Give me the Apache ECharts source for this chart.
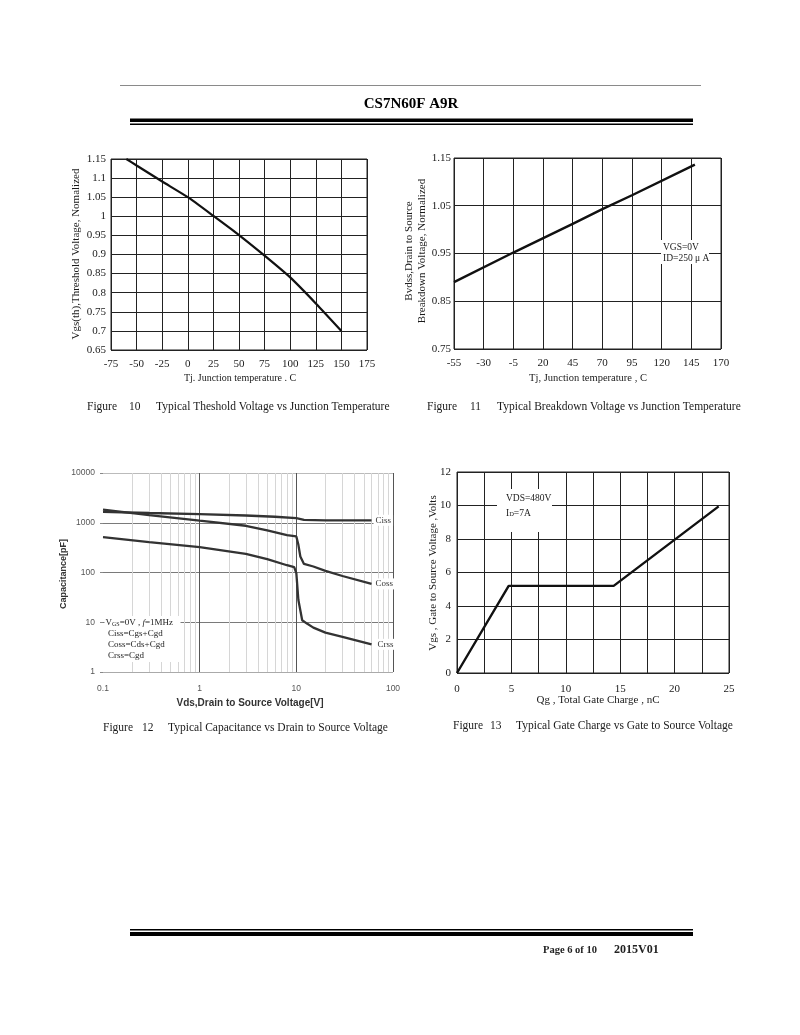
<!DOCTYPE html>
<html><head><meta charset="utf-8">
<script src="https://cdn.jsdelivr.net/npm/echarts@6/dist/echarts.min.js"></script>
<style>html,body{margin:0;padding:0;background:#fff}#c{width:800px;height:1035px}</style>
</head><body><div id="c"></div>
<script>
// ---------- data ----------
// Figure 10: threshold voltage vs junction temperature
const fig10Temp = [-60, -50, -25, 0, 25, 50, 75, 100, 125, 150];
const fig10Vth  = [1.15, 1.133, 1.091, 1.05, 1.001, 0.951, 0.897, 0.84, 0.772, 0.70];
const fig10XAxis = [-75, 175, 25];       // min, max, step
const fig10YAxis = [0.65, 1.15, 0.05];
// Figure 11: breakdown voltage vs junction temperature
const fig11Temp = [-55, -5, 45, 70, 95, 148];
const fig11BV   = [0.89, 0.952, 1.012, 1.043, 1.072, 1.136];
const fig11XAxis = [-55, 170, 25];
const fig11YAxis = [0.75, 1.15, 0.1];
// Figure 12: capacitance vs drain-source voltage (log-log)
const cissVds = [0.1, 0.3, 1, 3, 6, 10, 12, 20, 60];
const cissPF  = [1660, 1570, 1490, 1400, 1320, 1240, 1140, 1120, 1120];
const cossVds = [0.1, 0.3, 1, 3, 5, 8, 10, 10.5, 11, 12, 15, 20, 30, 60];
const cossPF  = [1830, 1425, 1100, 870, 700, 565, 530, 360, 210, 149, 132, 108, 85, 59];
const crssVds = [0.1, 0.3, 1, 3, 5, 8, 9.5, 10, 10.5, 11.5, 13, 15, 20, 30, 60];
const crssPF  = [514, 407, 324, 238, 185, 140, 128, 97, 28, 11, 9.3, 7.8, 6.2, 5.1, 3.6];
const capMinorV = [0.2,0.3,0.4,0.5,0.6,0.7,0.8,0.9,2,3,4,5,6,7,8,9,20,30,40,50,60,70,80,90];
// Figure 13: gate charge
const qgCharge = [0, 4.75, 14.4, 24.05];
const qgVgs    = [0, 5.2, 5.2, 9.95];
const fig13XAxis = [0, 25, 2.5];
const fig13YAxis = [0, 12, 2];

// ---------- styles ----------
const SERIF = '"Liberation Serif","Times New Roman",serif';
const SANS = '"Liberation Sans",Arial,sans-serif';
const INK = '#1a1a1a';
const GRIDC = '#222';

function serifAxis(gi, rng, extra) {
  return Object.assign({
    gridIndex: gi, type: 'value', min: rng[0], max: rng[1], interval: rng[2],
    axisLine: {show: false}, axisTick: {show: false},
    splitLine: {show: true, lineStyle: {color: GRIDC, width: 1}},
    axisLabel: {fontFamily: SERIF, fontSize: 11, color: INK, margin: 8, showMinLabel: true, showMaxLabel: true}
  }, extra || {});
}

function T(x, y, text, o) {
  o = o || {};
  const fs = o.size || 11;
  const st = {
    text: text, x: 0, y: 0, fill: o.color || INK,
    fontFamily: o.family || SERIF, fontSize: fs, fontWeight: o.weight || 'normal',
    align: o.align || 'left', textAlign: o.align || 'left',
    verticalAlign: 'middle', textVerticalAlign: 'middle'
  };
  if (o.rich) st.rich = o.rich;
  return {type: 'text', x: x, y: y, rotation: o.rot || 0, z: 100, silent: true, style: st};
}
function R(x, y, w, h, fill, z) {
  return {type: 'rect', z: z || 90, silent: true, shape: {x: x, y: y, width: w, height: h}, style: {fill: fill}};
}

const G = [
  {left: 111, top: 159, width: 256, height: 191},
  {left: 454, top: 158, width: 267, height: 191},
  {left: 103, top: 473, width: 290, height: 199},
  {left: 457, top: 472, width: 272, height: 201}
].map((g, i) => Object.assign(g, {
  containLabel: false, outerBoundsMode: 'none',
  show: i !== 2, borderColor: GRIDC, borderWidth: 1, backgroundColor: 'transparent'
}));

const xOff11 = -fig11XAxis[0], yOff11 = -fig11YAxis[0];
const CAP = 11.5;

const option = {
  animation: false,
  backgroundColor: '#fff',
  grid: G,
  xAxis: [
    serifAxis(0, fig10XAxis, {axisLabel: {fontFamily: SERIF, fontSize: 11, color: INK, margin: 9, showMinLabel: true, showMaxLabel: true}}),
    serifAxis(1, [0, fig11XAxis[1] + xOff11, fig11XAxis[2]], {axisLabel: {fontFamily: SERIF, fontSize: 11, color: INK, margin: 9, showMinLabel: true, showMaxLabel: true,
      formatter: v => String(Math.round(v - xOff11))}}),
    {gridIndex: 2, type: 'log', logBase: 10, min: 0.1, max: 100,
      axisLine: {show: false}, axisTick: {show: false},
      splitLine: {show: true, showMinLine: false, lineStyle: {color: '#555', width: 1}},
      axisLabel: {fontFamily: SANS, fontSize: 8.5, color: '#555', margin: 12, showMinLabel: true, showMaxLabel: true,
        formatter: v => v >= 1 ? String(Math.round(v)) : String(+v.toPrecision(2))}},
    serifAxis(3, fig13XAxis, {axisLabel: {fontFamily: SERIF, fontSize: 11, color: INK, margin: 11, showMinLabel: true, showMaxLabel: true,
      formatter: v => (Math.abs(v % 5) < 1e-6 ? String(Math.round(v)) : '')}})
  ],
  yAxis: [
    serifAxis(0, fig10YAxis, {axisLabel: {fontFamily: SERIF, fontSize: 11, color: INK, margin: 5, showMinLabel: true, showMaxLabel: true,
      formatter: v => String(+v.toFixed(2))}}),
    serifAxis(1, [0, fig11YAxis[1] + yOff11, fig11YAxis[2]], {axisLabel: {fontFamily: SERIF, fontSize: 11, color: INK, margin: 3, showMinLabel: true, showMaxLabel: true,
      formatter: v => (v - yOff11).toFixed(2)}}),
    {gridIndex: 2, type: 'log', logBase: 10, min: 1, max: 10000,
      axisLine: {show: false}, axisTick: {show: true, length: 3, lineStyle: {color: '#888'}},
      splitLine: {show: true, lineStyle: {color: ['#aaa', '#7a7a7a', '#7a7a7a', '#7a7a7a', '#bbb'], width: 1}},
      axisLabel: {fontFamily: SANS, fontSize: 8.5, color: '#555', margin: 8, showMinLabel: true, showMaxLabel: true,
        formatter: v => String(Math.round(v))}},
    serifAxis(3, fig13YAxis, {axisLabel: {fontFamily: SERIF, fontSize: 11, color: INK, margin: 6, showMinLabel: true, showMaxLabel: true}})
  ],
  series: [
    {type: 'line', xAxisIndex: 0, yAxisIndex: 0, symbol: 'none', smooth: 0.2, z: 5,
      lineStyle: {color: '#111', width: 2.2},
      data: fig10Temp.map((t, i) => [t, fig10Vth[i]])},
    {type: 'line', xAxisIndex: 1, yAxisIndex: 1, symbol: 'none', z: 5,
      lineStyle: {color: '#111', width: 2.4},
      data: fig11Temp.map((t, i) => [t + xOff11, fig11BV[i] + yOff11])},
    {type: 'line', xAxisIndex: 2, yAxisIndex: 2, symbol: 'none', z: 1, data: [],
      markLine: {silent: true, symbol: ['none', 'none'], label: {show: false}, animation: false,
        lineStyle: {color: '#d6d6d6', width: 1, type: 'solid'},
        data: capMinorV.map(v => ({xAxis: v}))}},
    {name: 'Ciss', type: 'line', xAxisIndex: 2, yAxisIndex: 2, symbol: 'none', z: 5,
      lineStyle: {color: '#333', width: 2.3},
      endLabel: {show: true, formatter: 'Ciss', distance: 2, fontFamily: SERIF, fontSize: 9, color: '#333', backgroundColor: '#fff', padding: [1, 2]},
      data: cissVds.map((v, i) => [v, cissPF[i]])},
    {name: 'Coss', type: 'line', xAxisIndex: 2, yAxisIndex: 2, symbol: 'none', z: 5,
      lineStyle: {color: '#333', width: 2.3},
      endLabel: {show: true, formatter: 'Coss', distance: 2, fontFamily: SERIF, fontSize: 9, color: '#333', backgroundColor: '#fff', padding: [1, 2]},
      data: cossVds.map((v, i) => [v, cossPF[i]])},
    {name: 'Crss', type: 'line', xAxisIndex: 2, yAxisIndex: 2, symbol: 'none', z: 5,
      lineStyle: {color: '#333', width: 2.3},
      endLabel: {show: true, formatter: 'Crss', distance: 4, fontFamily: SERIF, fontSize: 9, color: '#333', backgroundColor: '#fff', padding: [1, 2]},
      data: crssVds.map((v, i) => [v, crssPF[i]])},
    {type: 'line', xAxisIndex: 3, yAxisIndex: 3, symbol: 'none', z: 5,
      lineStyle: {color: '#111', width: 2.4},
      data: qgCharge.map((q, i) => [q, qgVgs[i]])}
  ],
  graphic: {elements: [
    // header
    R(120, 85, 581, 1, '#8a8a8a'),
    T(411, 104, 'CS7N60F A9R', {size: 15, weight: 'bold', align: 'center', color: '#000'}),
    R(130, 118.5, 563, 3.5, '#000'),
    R(130, 123.5, 563, 1.5, '#000'),
    // footer
    R(130, 929, 563, 1.5, '#000'),
    R(130, 932, 563, 4, '#000'),
    T(543, 950, 'Page 6 of 10', {size: 10.5, weight: 'bold', color: '#222'}),
    T(614, 950, '2015V01', {size: 12, weight: 'bold', color: '#222'}),

    // fig 10 names
    T(76, 254, 'Vgs(th),Threshold Voltage, Nomalized', {size: 11, align: 'center', rot: Math.PI / 2}),
    T(240, 378, 'Tj. Junction temperature . C', {size: 10, align: 'center'}),
    // fig 11 names
    T(409, 251, 'Bvdss,Drain to Source', {size: 11, align: 'center', rot: Math.PI / 2}),
    T(422, 251, 'Breakdown Voltage, Normalized', {size: 11, align: 'center', rot: Math.PI / 2}),
    T(588, 378, 'Tj, Junction temperature , C', {size: 10.5, align: 'center'}),
    R(661, 240, 48, 24, '#fff'),
    T(663, 247, 'VGS=0V', {size: 9.5}),
    T(663, 258, 'ID=250 μ A', {size: 9.5}),
    // fig 12
    T(64, 574, 'Capacitance[pF]', {size: 9, weight: 'bold', family: SANS, align: 'center', rot: Math.PI / 2, color: '#333'}),
    T(250, 703, 'Vds,Drain to Source Voltage[V]', {size: 10, weight: 'bold', family: SANS, align: 'center', color: '#333'}),
    R(104.5, 616, 76, 46, '#fff'),
    T(105.5, 623, '{n|V}{s|GS}{n|=0V , }{i|f}{n|=1MHz}', {size: 9, rich: {
      n: {fontFamily: SERIF, fontSize: 9, fill: '#222'},
      s: {fontFamily: SERIF, fontSize: 6, fill: '#222', verticalAlign: 'bottom'},
      i: {fontFamily: SERIF, fontSize: 9, fill: '#222', fontStyle: 'italic'}}}),
    T(108, 634, 'Ciss=Cgs+Cgd', {size: 9, color: '#222'}),
    T(108, 645, 'Coss=Cds+Cgd', {size: 9, color: '#222'}),
    T(108, 656, 'Crss=Cgd', {size: 9, color: '#222'}),
    // fig 13
    T(433, 573, 'Vgs , Gate to Source Voltage ,Volts', {size: 11, align: 'center', rot: Math.PI / 2}),
    T(598, 700, 'Qg , Total Gate Charge , nC', {size: 11, align: 'center'}),
    R(497, 489, 55, 43, '#fff'),
    T(506, 498, 'VDS=480V', {size: 9.5}),
    T(506, 513, '{n|I}{s|D}{n|=7A}', {size: 9.5, rich: {
      n: {fontFamily: SERIF, fontSize: 9.5, fill: INK},
      s: {fontFamily: SERIF, fontSize: 6.5, fill: INK, verticalAlign: 'bottom'}}}),

    // captions
    T(87, 407, 'Figure', {size: CAP}), T(129, 407, '10', {size: CAP}),
    T(156, 407, 'Typical Theshold Voltage vs Junction Temperature', {size: CAP}),
    T(427, 407, 'Figure', {size: CAP}), T(470, 407, '11', {size: CAP}),
    T(497, 407, 'Typical Breakdown Voltage vs Junction Temperature', {size: CAP}),
    T(103, 728, 'Figure', {size: CAP}), T(142, 728, '12', {size: CAP}),
    T(168, 728, 'Typical Capacitance vs Drain to Source Voltage', {size: CAP}),
    T(453, 726, 'Figure', {size: CAP}), T(490, 726, '13', {size: CAP}),
    T(516, 726, 'Typical Gate Charge vs Gate to Source Voltage', {size: CAP})
  ]}
};

const chart = echarts.init(document.getElementById('c'), null, {renderer: 'canvas'});
chart.setOption(option);
</script></body></html>
